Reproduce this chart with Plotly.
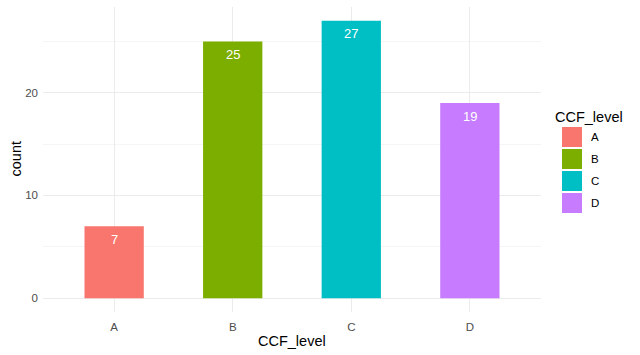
import plotly.graph_objects as go

categories = ["A", "B", "C", "D"]
counts = [7, 25, 27, 19]
colors = ["#F8766D", "#7CAE00", "#00BFC4", "#C77CFF"]
y_ticks = [0, 10, 20]
legend_title = "CCF_level"
x_title = "CCF_level"
y_title = "count"

FONT = "Liberation Sans, Arial, sans-serif"
W, H = 640, 355
L, R, T, B = 43, 99, 7, 43

fig = go.Figure()
for cat, val, col in zip(categories, counts, colors):
    fig.add_trace(go.Bar(x=[cat], y=[val], marker=dict(color=col, line=dict(width=0)),
                         width=0.5, showlegend=False, hoverinfo="skip"))
    fig.add_annotation(x=cat, y=val, text=str(val), showarrow=False, yshift=-13,
                       xref="x", yref="y", yanchor="middle",
                       font=dict(family=FONT, size=13, color="white"))

ymax = max(counts)
fig.update_layout(
    width=W, height=H,
    margin=dict(l=L, r=R, t=T, b=B),
    plot_bgcolor="white", paper_bgcolor="white",
    bargap=0.5,
    showlegend=False,
    xaxis=dict(range=[-0.6, len(categories) - 0.4], showgrid=True, gridcolor="#EBEBEB", gridwidth=1,
               zeroline=False, showline=False, ticks="", tickfont=dict(family=FONT, size=11.5, color="#4D4D4D"),
               ticklabelstandoff=6, fixedrange=True),
    yaxis=dict(range=[-0.05 * ymax, 1.05 * ymax], tickvals=y_ticks, showgrid=True, gridcolor="#EBEBEB",
               gridwidth=1, zeroline=False, showline=False, ticks="",
               tickfont=dict(family=FONT, size=11.5, color="#4D4D4D"), ticklabelstandoff=4,
               minor=dict(dtick=5, tick0=5, showgrid=True, gridcolor="#F5F5F5", gridwidth=1)),
)

# axis titles
fig.add_annotation(x=0.5, y=0, xref="paper", yref="paper", yshift=-29, text=x_title, showarrow=False,
                   yanchor="middle", font=dict(family=FONT, size=14.5, color="black"))
fig.add_annotation(x=0, y=0.5, xref="paper", yref="paper", xshift=-28, text=y_title, showarrow=False,
                   textangle=-90, xanchor="center", font=dict(family=FONT, size=14.5, color="black"))

# legend (ggplot style)
pw = W - L - R
ph = H - T - B
def px_to_paper_x(px):
    return (px - L) / pw
def px_to_paper_y(py):
    return (H - B - py) / ph

fig.add_annotation(x=px_to_paper_x(553), y=px_to_paper_y(117), xref="paper", yref="paper",
                   text=legend_title, showarrow=False, xanchor="left", yanchor="middle",
                   font=dict(family=FONT, size=14.5, color="black"))
key_top = 127
key_step = 22
for i, (cat, col) in enumerate(zip(categories, colors)):
    y0 = key_top + i * key_step
    fig.add_shape(type="rect", xref="paper", yref="paper",
                  x0=px_to_paper_x(562), x1=px_to_paper_x(582),
                  y0=px_to_paper_y(y0 + 20), y1=px_to_paper_y(y0),
                  fillcolor=col, line=dict(width=0))
    fig.add_annotation(x=px_to_paper_x(589), y=px_to_paper_y(y0 + 10), xref="paper", yref="paper",
                       text=cat, showarrow=False, xanchor="left", yanchor="middle",
                       font=dict(family=FONT, size=11.5, color="black"))

fig.write_html("out.html", config={"displayModeBar": False},
               post_script="document.body.style.margin='0';document.body.style.overflow='hidden';")
